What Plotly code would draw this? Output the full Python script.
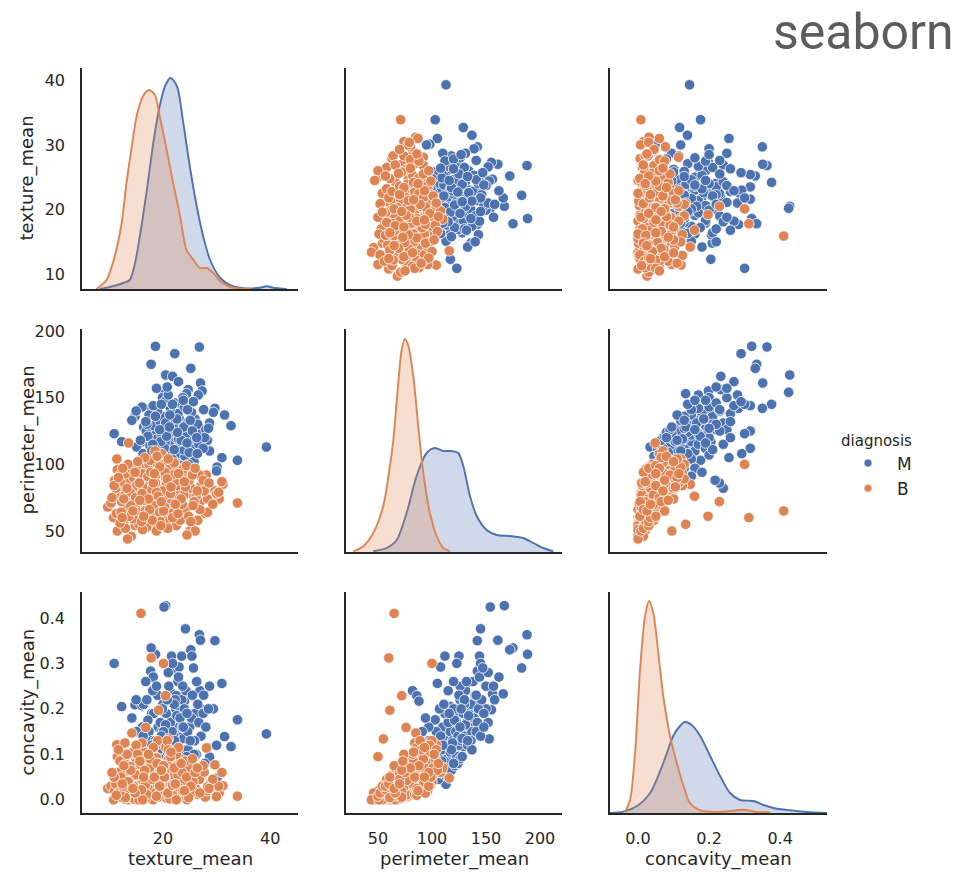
import plotly.graph_objects as go

# ---------------- data ----------------
variables = ["texture_mean", "perimeter_mean", "concavity_mean"]
hue_levels = ["M", "B"]

# malignant samples: (texture_mean, perimeter_mean, concavity_mean)
m_samples = [
    (39.3, 113, 0.145), (20.5, 167, 0.427), (20.2, 154, 0.424), (18.6, 188.5, 0.32),
    (26.8, 188, 0.363), (22.2, 183, 0.29), (17.8, 175, 0.334), (25.2, 172, 0.33),
    (27.0, 161, 0.351), (21.8, 166, 0.233), (24.7, 156, 0.233), (27.3, 155, 0.198),
    (26.6, 152, 0.17), (24.4, 153, 0.134), (24.2, 145, 0.376), (29.7, 142, 0.35),
    (23.5, 144, 0.316), (21.6, 125, 0.316), (10.9, 123, 0.30), (25.4, 112, 0.316),
    (23.0, 108, 0.292), (31.0, 105, 0.256), (17.7, 142, 0.283), (26.9, 82, 0.24),
    (22.5, 86, 0.229), (24.0, 88, 0.217), (28.3, 118, 0.115), (28.7, 110, 0.094),
    (30.1, 98, 0.048), (33.9, 103, 0.176), (32.7, 129, 0.117), (31.5, 137, 0.139),
    (12.3, 117, 0.205), (14.8, 136, 0.209), (16.1, 143, 0.207), (16.4, 128, 0.21),
    (16.2, 117, 0.16), (17.9, 123, 0.19), (29.4, 139, 0.2), (28.7, 131, 0.25),
    (30.0, 95, 0.12), (19.9, 150, 0.2), (14.2, 133, 0.18), (15.0, 140, 0.22),
    (15.1, 113, 0.15), (21.0, 113, 0.034), (19.5, 106, 0.045),
    (20.2, 98, 0.09), (22.5, 101, 0.12), (18.7, 104, 0.08), (24.1, 106, 0.14),
    (21.3, 108, 0.10), (19.1, 110, 0.16), (23.8, 111, 0.11), (25.6, 113, 0.13),
    (17.6, 114, 0.09), (21.9, 115, 0.18), (20.4, 116, 0.12), (23.1, 117, 0.15),
    (26.2, 118, 0.10), (18.9, 119, 0.13), (22.4, 120, 0.20), (24.7, 121, 0.11),
    (19.8, 122, 0.15), (21.2, 123, 0.17), (27.1, 124, 0.14), (16.9, 125, 0.12),
    (23.5, 126, 0.22), (20.8, 127, 0.13), (25.0, 128, 0.16), (18.3, 129, 0.19),
    (22.0, 130, 0.14), (24.3, 131, 0.24), (19.5, 132, 0.17), (21.6, 133, 0.12),
    (26.0, 134, 0.19), (23.0, 135, 0.16), (20.0, 136, 0.21), (17.4, 137, 0.15),
    (22.8, 138, 0.26), (25.3, 139, 0.18), (19.0, 140, 0.23), (21.4, 142, 0.17),
    (24.0, 143, 0.20), (18.2, 144, 0.27), (22.3, 146, 0.22), (20.6, 148, 0.19),
    (23.7, 150, 0.25), (21.0, 152, 0.28), (19.3, 103, 0.11), (23.3, 99, 0.07),
    (25.8, 102, 0.10), (22.0, 96, 0.065), (18.0, 100, 0.13), (21.7, 104, 0.15),
    (24.9, 109, 0.085), (20.3, 112, 0.07), (26.7, 115, 0.17), (19.6, 117, 0.105),
    (22.9, 119, 0.125), (17.2, 121, 0.175), (24.4, 123, 0.095), (21.1, 126, 0.25),
    (23.9, 128, 0.135), (26.5, 130, 0.21), (20.5, 131, 0.165), (22.6, 134, 0.185),
    (18.6, 136, 0.13), (24.6, 141, 0.15), (21.8, 145, 0.30), (16.3, 108, 0.14),
    (27.5, 112, 0.19), (15.8, 118, 0.11), (28.0, 126, 0.16), (20.9, 94, 0.10),
    (23.6, 97, 0.16), (19.9, 107, 0.20), (25.5, 125, 0.23), (17.0, 130, 0.22),
    (18.4, 97, 0.06), (21.5, 101, 0.055), (24.2, 93, 0.085), (19.2, 92, 0.11),
    (22.2, 90, 0.13),
    (18.5, 112, 0.055), (23.4, 118, 0.065), (20.7, 121, 0.075), (26.4, 108, 0.06),
    (17.3, 105, 0.07), (24.8, 100, 0.05), (22.7, 124, 0.08), (19.4, 126, 0.09),
    (27.8, 120, 0.08), (16.7, 98, 0.1), (25.9, 97, 0.13), (20.1, 91, 0.15),
    (23.2, 94, 0.18), (18.1, 115, 0.24), (26.3, 120, 0.26), (22.1, 111, 0.21),
    (24.5, 116, 0.19), (21.3, 137, 0.11), (19.7, 145, 0.14), (25.1, 133, 0.13),
    (27.6, 141, 0.23), (23.8, 148, 0.16), (20.8, 158, 0.22), (22.9, 162, 0.27),
    (18.8, 157, 0.25), (25.7, 147, 0.29), (16.8, 132, 0.26), (28.5, 127, 0.2),
    (17.9, 110, 0.12), (21.2, 128, 0.095),
]

# benign samples: (texture_mean, perimeter_mean, concavity_mean)
b_samples = [
    (33.9, 71, 0.008), (9.7, 68, 0.025), (10.3, 71, 0.03), (15.9, 65, 0.41),
    (17.8, 60, 0.312), (20.1, 100, 0.300), (20.5, 72, 0.229), (19.2, 61, 0.197),
    (16.8, 76, 0.159), (14.2, 85, 0.147), (11.4, 104, 0.121), (28.1, 92, 0.114),
    (21.0, 55, 0.134), (11.5, 50, 0.095), (13.6, 116, 0.048), (19.8, 108, 0.06),
    (18.5, 110, 0.07), (29.0, 82, 0.04), (30.5, 74, 0.015), (31.2, 85, 0.031),
    (27.9, 63, 0.006), (26.5, 58, 0.012), (29.7, 80, 0.077), (30.0, 78, 0.007),
    (28.3, 64, 0.02), (27.0, 72, 0.05), (31.0, 87, 0.06), (30.4, 79, 0.03),
    (25.0, 50, 0.01), (26.0, 50, 0.02), (24.5, 47, 0.0), (14.1, 46, 0.015),
    (13.4, 44, 0.0), (11.5, 96, 0.06), (10.8, 60, 0.0), (12.0, 92, 0.085),
    (11.0, 88, 0.02), (12.9, 84, 0.125),
    (14.2, 78, 0.030), (16.5, 82, 0.045), (18.1, 75, 0.020), (19.4, 88, 0.060),
    (15.3, 70, 0.015), (17.7, 79, 0.038), (21.2, 84, 0.052), (13.1, 73, 0.025),
    (16.9, 90, 0.075), (18.8, 66, 0.010), (20.3, 77, 0.033), (15.9, 86, 0.065),
    (14.7, 62, 0.008), (22.4, 80, 0.041), (17.2, 72, 0.022), (19.0, 94, 0.085),
    (12.4, 80, 0.047), (16.2, 68, 0.012), (23.5, 86, 0.055), (18.4, 83, 0.070),
    (15.0, 92, 0.090), (20.8, 70, 0.018), (13.8, 85, 0.036), (17.5, 96, 0.100),
    (21.9, 74, 0.028), (19.7, 81, 0.043), (14.0, 67, 0.005), (16.7, 76, 0.050),
    (24.6, 78, 0.031), (18.6, 89, 0.095), (12.8, 58, 0.002), (15.6, 80, 0.026),
    (20.0, 92, 0.068), (17.9, 64, 0.014), (22.9, 91, 0.078), (13.5, 88, 0.058),
    (16.0, 74, 0.035), (19.2, 71, 0.009), (21.5, 87, 0.046), (14.9, 83, 0.080),
    (18.0, 98, 0.110), (25.3, 82, 0.040), (11.8, 76, 0.018), (17.0, 85, 0.029),
    (20.6, 62, 0.004), (15.4, 95, 0.072), (23.0, 72, 0.016), (16.4, 88, 0.105),
    (19.8, 78, 0.057), (13.3, 70, 0.038), (18.2, 56, 0.000), (21.0, 96, 0.088),
    (14.5, 90, 0.049), (17.3, 68, 0.027), (26.2, 76, 0.024), (15.7, 60, 0.011),
    (19.5, 85, 0.074), (22.0, 66, 0.007), (12.1, 86, 0.062), (16.8, 79, 0.019),
    (20.5, 90, 0.115), (14.1, 74, 0.044), (18.9, 73, 0.034), (24.0, 94, 0.066),
    (17.6, 87, 0.052), (15.2, 66, 0.000), (21.7, 79, 0.063), (13.0, 93, 0.079),
    (19.1, 60, 0.006), (16.3, 97, 0.094), (23.8, 68, 0.013), (18.5, 77, 0.042),
    (14.8, 54, 0.001), (20.9, 82, 0.030), (17.1, 62, 0.017), (22.6, 97, 0.097),
    (15.8, 89, 0.037), (12.6, 66, 0.020), (19.9, 67, 0.025), (16.6, 71, 0.003),
    (27.1, 84, 0.050), (18.7, 92, 0.120), (14.4, 81, 0.064), (21.3, 58, 0.002),
    (17.8, 82, 0.085), (15.5, 77, 0.008), (20.2, 75, 0.047), (13.6, 63, 0.016),
    (24.9, 88, 0.071), (16.1, 93, 0.125), (19.3, 84, 0.021), (22.2, 76, 0.059),
    (14.6, 71, 0.032), (18.3, 69, 0.044), (17.4, 100, 0.082), (12.9, 77, 0.011),
    (21.1, 65, 0.036), (15.1, 84, 0.054), (23.3, 80, 0.090), (19.6, 96, 0.062),
    (16.9, 58, 0.005), (28.3, 74, 0.028), (17.9, 81, 0.067), (14.3, 96, 0.104),
    (20.7, 86, 0.039), (15.9, 64, 0.023), (22.7, 84, 0.012), (18.1, 62, 0.030),
    (13.9, 79, 0.073), (26.8, 92, 0.045), (16.5, 73, 0.060), (19.0, 100, 0.130),
    (21.6, 71, 0.048), (11.2, 82, 0.035), (24.3, 66, 0.009), (17.2, 91, 0.026),
    (15.4, 57, 0.013), (20.0, 80, 0.076), (18.6, 86, 0.015), (13.2, 68, 0.041),
    (22.5, 88, 0.100), (16.2, 83, 0.088), (25.8, 72, 0.019), (19.4, 64, 0.037),
    (14.9, 75, 0.055), (17.7, 94, 0.069), (21.8, 92, 0.033), (15.6, 86, 0.010),
    (12.3, 72, 0.006), (27.7, 80, 0.061), (18.8, 79, 0.092), (23.9, 77, 0.043),
    (16.7, 65, 0.032), (20.4, 94, 0.050),
    (13.0, 52, 0.005), (15.5, 55, 0.0), (17.0, 53, 0.012), (19.5, 57, 0.02),
    (22.5, 54, 0.0), (12.0, 56, 0.018), (14.5, 59, 0.03), (16.2, 51, 0.0),
    (18.8, 50, 0.008), (20.9, 52, 0.015), (23.2, 58, 0.025), (11.3, 63, 0.01),
    (13.7, 61, 0.04), (16.0, 57, 0.022), (21.8, 60, 0.032), (24.8, 61, 0.005),
    (26.9, 66, 0.015), (12.2, 64, 0.05), (18.0, 58, 0.045), (19.6, 54, 0.03),
    (22.8, 63, 0.055), (25.6, 69, 0.04), (14.0, 69, 0.065), (17.5, 66, 0.07),
    (20.3, 68, 0.05), (23.6, 70, 0.06), (12.7, 74, 0.075), (16.1, 78, 0.09),
    (19.1, 76, 0.08), (21.4, 78, 0.095), (24.2, 83, 0.085), (13.3, 82, 0.1),
    (18.2, 86, 0.115), (20.8, 89, 0.13), (15.0, 98, 0.12), (17.6, 103, 0.09),
    (22.1, 101, 0.07), (13.5, 100, 0.04), (16.6, 105, 0.065), (19.4, 98, 0.03),
    (23.7, 96, 0.02), (25.5, 92, 0.09), (14.8, 94, 0.015), (12.5, 97, 0.03),
    (21.0, 104, 0.11), (24.4, 99, 0.05), (18.9, 106, 0.08), (15.3, 102, 0.1),
    (27.5, 88, 0.075), (26.0, 97, 0.06), (29.3, 70, 0.045), (28.6, 86, 0.025),
    (25.2, 57, 0.03), (10.9, 84, 0.05), (11.7, 90, 0.11), (10.5, 75, 0.06),
    (12.4, 60, 0.035), (22.9, 93, 0.115), (20.1, 65, 0.075), (17.3, 74, 0.1),
    (23.4, 74, 0.08), (26.4, 80, 0.07), (16.4, 61, 0.05), (14.4, 65, 0.025),
    (19.7, 72, 0.065), (21.5, 83, 0.105), (15.7, 73, 0.085), (18.4, 93, 0.05),
    (24.0, 87, 0.02), (22.3, 70, 0.035),
]

# KDE curves on the diagonal (x value, relative curve height)
kde_tex_x_m = [8.2, 10.1, 12.6, 13.8, 14.8, 15.7, 17.0, 18.2, 19.4, 20.4, 21.4, 22.6, 23.8,
               25.0, 26.3, 27.5, 28.8, 30.7, 32.5, 35.0, 38.1, 39.4, 40.6, 43.1]
kde_tex_h_m = [0, 2, 6, 9, 26, 53, 99, 146, 183, 203, 211, 203, 166,
               123, 83, 53, 29, 11, 4, 0.7, 1.3, 2.7, 1.3, 0]
kde_tex_x_b = [7.6, 9.5, 11.0, 12.3, 13.2, 14.1, 15.1, 16.3, 17.4, 18.5, 19.4, 20.7, 21.9,
               23.2, 24.4, 25.7, 26.9, 28.2, 29.4, 30.7, 32.5, 34.4, 36.5]
kde_tex_h_b = [0, 9.3, 32.7, 66, 106, 139, 173, 193, 199, 194, 173, 139, 106,
               73, 39, 29, 21, 21, 16, 7.7, 2, 0.5, 0]

kde_per_x_m = [45.6, 58, 67.3, 76.5, 85.8, 95.1, 102.8, 110.5, 118.2, 124.4, 129, 135.2,
               141.4, 150.6, 159.9, 172.2, 184.5, 193.8, 203, 212.3]
kde_per_h_m = [0.7, 4, 12, 39, 76, 99, 104, 101, 101, 99, 86, 56,
               36, 22, 17, 16, 14, 9, 4, 0.7]
kde_per_x_b = [27.2, 36.4, 45.6, 54.9, 61.1, 64.2, 68.8, 71.9, 75, 78.1, 82.7, 87.3, 92,
               98.1, 104.3, 110.5, 116.7]
kde_per_h_b = [0.7, 5.7, 19, 46, 86, 112, 169, 202, 213, 206, 176, 126, 79,
               39, 16, 4, 0.7]

kde_con_x_m = [-0.079, -0.041, -0.004, 0.034, 0.071, 0.099, 0.118, 0.132, 0.151, 0.175,
               0.203, 0.231, 0.259, 0.287, 0.325, 0.353, 0.381, 0.428, 0.485, 0.532]
kde_con_h_m = [0, 1.3, 6.7, 20, 50, 77, 87, 91, 88, 77,
               57, 37, 20, 13, 12, 8, 5, 2.7, 0.7, 0]
kde_con_x_b = [-0.037, -0.0225, -0.0085, 0.0056, 0.0197, 0.031, 0.043, 0.057, 0.071, 0.090,
               0.109, 0.128, 0.146, 0.175, 0.203, 0.25, 0.297, 0.334, 0.372]
kde_con_h_b = [0.7, 13, 60, 143, 197, 212, 200, 160, 117, 77,
               50, 27, 10, 2.7, 1.3, 1.5, 3.3, 1, 0.7]

y_tick_vals = [[10, 20, 30, 40], [50, 100, 150, 200], [0.0, 0.1, 0.2, 0.3, 0.4]]
x_tick_vals = [[20, 40], [50, 100, 150, 200], [0.0, 0.2, 0.4]]

# ---------------- styling / layout ----------------
W, H = 961, 873
colors = {"M": "#4c72b0", "B": "#dd8452"}
fills = {"M": "rgba(76,114,176,0.27)", "B": "rgba(221,132,82,0.27)"}
ink = "#262626"
font_family = "DejaVu Sans"

x_ranges = [[4.9, 45.2], [20.4, 220.4], [-0.079, 0.532]]
y_ranges = [[7.7, 41.9], [34.2, 201.5], [-0.029, 0.457]]
col_px = [(82, 298), (346, 562), (610, 827)]
row_px = [(68, 289), (329, 552), (592, 813)]
col_dom = [[a / W, b / W] for a, b in col_px]
row_dom = [[1 - b / H, 1 - a / H] for a, b in row_px]
tick_fmt = [None, None, ".1f"]

samples = {"M": m_samples, "B": b_samples}
kdes = [
    {"M": (kde_tex_x_m, kde_tex_h_m), "B": (kde_tex_x_b, kde_tex_h_b)},
    {"M": (kde_per_x_m, kde_per_h_m), "B": (kde_per_x_b, kde_per_h_b)},
    {"M": (kde_con_x_m, kde_con_h_m), "B": (kde_con_x_b, kde_con_h_b)},
]


def fmt(v, f):
    return format(v, f) if f else str(v)


fig = go.Figure()
layout = {}
axis_common = dict(showline=True, linecolor=ink, linewidth=1.6, mirror=False,
                   showgrid=False, zeroline=False, ticks="", automargin=False,
                   tickfont=dict(family=font_family, size=16, color=ink))

for r in range(3):
    for c in range(3):
        k = r * 3 + c + 1
        xa, ya = f"x{k}", f"y{k}"
        layout[f"xaxis{k}"] = dict(
            domain=col_dom[c], anchor=ya, range=x_ranges[c],
            tickvals=x_tick_vals[c], ticktext=[fmt(v, tick_fmt[c]) for v in x_tick_vals[c]],
            showticklabels=(r == 2), ticklabelstandoff=10, **axis_common,
        )
        if r == c:
            # diagonal: density axis, ticks of the row's variable shown on the left column
            panel_h = row_px[r][1] - row_px[r][0]
            lo, hi = y_ranges[r]
            tv = [(v - lo) / (hi - lo) * panel_h for v in y_tick_vals[r]]
            layout[f"yaxis{k}"] = dict(
                domain=row_dom[r], anchor=xa, range=[0, panel_h],
                tickvals=tv, ticktext=[fmt(v, tick_fmt[r]) for v in y_tick_vals[r]],
                showticklabels=(c == 0), ticklabelstandoff=12, **axis_common,
            )
            for lvl in hue_levels:
                kx, kh = kdes[r][lvl]
                fig.add_trace(go.Scatter(
                    x=kx, y=kh, xaxis=xa, yaxis=ya, mode="lines",
                    line=dict(color=colors[lvl], width=1.9, shape="spline", smoothing=0.8),
                    fill="tozeroy", fillcolor=fills[lvl], showlegend=False,
                    hoverinfo="skip",
                ))
        else:
            layout[f"yaxis{k}"] = dict(
                domain=row_dom[r], anchor=xa, range=y_ranges[r],
                tickvals=y_tick_vals[r], ticktext=[fmt(v, tick_fmt[r]) for v in y_tick_vals[r]],
                showticklabels=(c == 0), ticklabelstandoff=12, **axis_common,
            )
            for lvl in hue_levels:
                pts = samples[lvl]
                fig.add_trace(go.Scatter(
                    x=[p[c] for p in pts], y=[p[r] for p in pts],
                    xaxis=xa, yaxis=ya, mode="markers", name=lvl, legendgroup=lvl,
                    showlegend=False,
                    marker=dict(color=colors[lvl], size=10.5,
                                line=dict(color="white", width=0.8)),
                ))

# legend entries (small markers as in the reference legend)
for lvl in hue_levels:
    fig.add_trace(go.Scatter(
        x=[None], y=[None], xaxis="x2", yaxis="y2", mode="markers", name=lvl,
        legendgroup=lvl, showlegend=True,
        marker=dict(color=colors[lvl], size=8, line=dict(color="white", width=0.6)),
    ))

annotations = []
for i, name in enumerate(variables):
    annotations.append(dict(
        text=name, xref="paper", yref="paper",
        x=(col_dom[i][0] + col_dom[i][1]) / 2, y=1 - 859 / H,
        xanchor="center", yanchor="middle", showarrow=False,
        font=dict(family=font_family, size=18, color=ink),
    ))
    annotations.append(dict(
        text=name, xref="paper", yref="paper", textangle=-90,
        x=27 / W, y=(row_dom[i][0] + row_dom[i][1]) / 2,
        xanchor="center", yanchor="middle", showarrow=False,
        font=dict(family=font_family, size=18, color=ink),
    ))
annotations.append(dict(
    text="seaborn", xref="paper", yref="paper", x=956 / W, y=1 - 32 / H,
    xanchor="right", yanchor="middle", showarrow=False,
    font=dict(family="Roboto", size=50, color="#5c5c5c"),
))

fig.update_layout(
    **layout,
    width=W, height=H, autosize=False,
    margin=dict(l=0, r=0, t=0, b=0, pad=0, autoexpand=False),
    paper_bgcolor="white", plot_bgcolor="white",
    annotations=annotations,
    legend=dict(
        title=dict(text="diagnosis", font=dict(family=font_family, size=15, color=ink)),
        x=839 / W, y=1 - 426 / H, xanchor="left", yanchor="top",
        font=dict(family=font_family, size=17, color=ink),
        bgcolor="rgba(0,0,0,0)", itemsizing="trace", itemwidth=48, tracegroupgap=0,
    ),
    showlegend=True,
    font=dict(family=font_family, color=ink),
)

fig.write_html("out.html", config={"displayModeBar": False},
               post_script="document.body.style.margin='0px';")
